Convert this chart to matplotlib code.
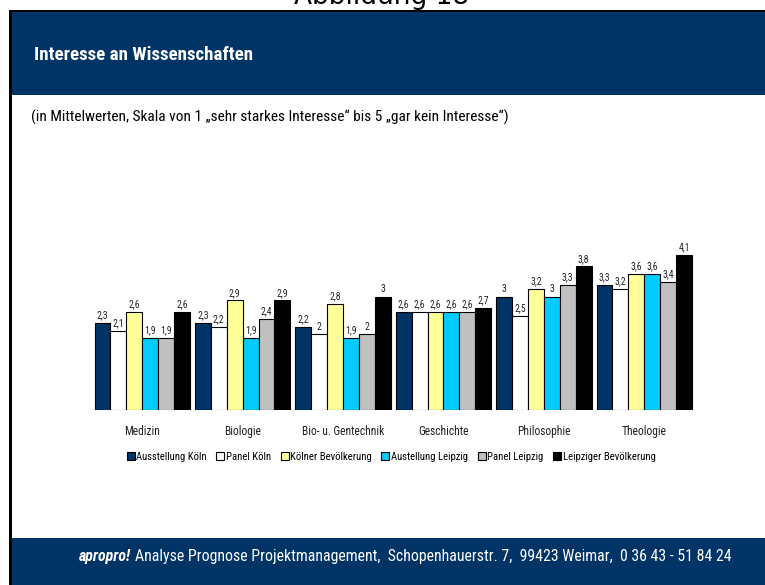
import numpy as np
import matplotlib
matplotlib.use("Agg")
import matplotlib.pyplot as plt
from matplotlib.patches import Rectangle

W, H = 765, 585

categories = ["Medizin", "Biologie", "Bio- u. Gentechnik", "Geschichte", "Philosophie", "Theologie"]
series_names = ["Ausstellung Köln", "Panel Köln", "Kölner Bevölkerung",
                "Austellung Leipzig", "Panel Leipzig", "Leipziger Bevölkerung"]
ausstellung_koeln = [2.3, 2.3, 2.2, 2.6, 3.0, 3.3]
panel_koeln = [2.1, 2.2, 2.0, 2.6, 2.5, 3.2]
koelner_bev = [2.6, 2.9, 2.8, 2.6, 3.2, 3.6]
ausstellung_leipzig = [1.9, 1.9, 1.9, 2.6, 3.0, 3.6]
panel_leipzig = [1.9, 2.4, 2.0, 2.6, 3.3, 3.4]
leipziger_bev = [2.6, 2.9, 3.0, 2.7, 3.8, 4.1]
series = [ausstellung_koeln, panel_koeln, koelner_bev,
          ausstellung_leipzig, panel_leipzig, leipziger_bev]
colors = ["#003366", "#FFFFFF", "#FFFF99", "#00CCFF", "#C0C0C0", "#000000"]

navy = "#003366"
narrow = ["Roboto Condensed", "DejaVu Sans"]


def fx(px):
    return px / W


def fy(py):
    return 1 - py / H


def fmt(v):
    s = ("%.1f" % v).replace(".", ",")
    return s[:-2] if s.endswith(",0") else s


def fit(t, width):
    # scale font size so the text gets the width measured on the reference
    fig.canvas.draw()
    w = t.get_window_extent().width
    t.set_fontsize(t.get_fontsize() * width / w)


fig = plt.figure(figsize=(W / 100, H / 100), dpi=100)

# frame: header, footer, left border
fig.add_artist(Rectangle((fx(9), 0), fx(3), fy(10),
                         transform=fig.transFigure, color="black", lw=0))
fig.add_artist(Rectangle((fx(9), fy(12)), 1, fy(10) - fy(12),
                         transform=fig.transFigure, color="black", lw=0))
fig.add_artist(Rectangle((fx(12), fy(95)), 1, fy(12) - fy(95),
                         transform=fig.transFigure, color=navy, lw=0))
fig.add_artist(Rectangle((fx(12), 0), 1, fy(538),
                         transform=fig.transFigure, color=navy, lw=0))

fig.text(fx(382), fy(4), "Abbildung 18", ha="center", va="baseline",
         fontsize=19, color="black", zorder=0)
t = fig.text(fx(34), fy(55), "Interesse an Wissenschaften", ha="left", va="center",
             fontsize=14, color="white", fontweight="bold", family=narrow)
fit(t, 220)
t = fig.text(fx(31), fy(117),
             "(in Mittelwerten, Skala von 1 \u201esehr starkes Interesse\u201c bis 5 \u201egar kein Interesse\u201c)",
             ha="left", va="center", fontsize=7, color="black", family=narrow)
fit(t, 484)

ax = fig.add_axes([fx(92), fy(410), fx(694.5) - fx(92), fy(240) - fy(410)])
x = np.arange(len(categories))
n = len(series)
bw = 0.95 / n
for i, (vals, c, name) in enumerate(zip(series, colors, series_names)):
    pos = x - 0.475 + bw * (i + 0.5)
    bars = ax.bar(pos, vals, width=bw, color=c, edgecolor="black", linewidth=0.8, label=name)
    for b, v in zip(bars, vals):
        ax.text(b.get_x() + b.get_width() / 2, v + 0.07, fmt(v), ha="center", va="bottom",
                fontsize=7, family=narrow, color="#222222")

ax.set_xlim(-0.5, len(categories) - 0.5)
ax.set_ylim(0, 4.5)
ax.set_xticks(x)
ax.set_xticklabels(categories, fontsize=8.3, family=narrow, color="#222222")
ax.tick_params(axis="x", length=0, pad=11)
ax.set_yticks([])
for s in ax.spines.values():
    s.set_visible(False)
ax.patch.set_alpha(0)

leg_size = 7.8
for _ in range(3):
    leg = fig.legend(loc="center", bbox_to_anchor=(fx(391), fy(457)), ncol=6, frameon=False,
                     prop={"family": narrow, "size": leg_size}, handlelength=0.75, handleheight=0.75,
                     handletextpad=0.15, columnspacing=0.9, borderaxespad=0)
    fig.canvas.draw()
    w = leg.get_window_extent().width
    if abs(w - 538) < 4:
        break
    leg.remove()
    leg_size = leg_size * 538 / w

# footer text: bold italic brand then regular text, same size
t2 = fig.text(fx(128), fy(557),
              "Analyse Prognose Projektmanagement,  Schopenhauerstr. 7,  99423 Weimar,  0 36 43 - 51 84 24",
              ha="left", va="center", fontsize=10, color="white", family=narrow)
fit(t2, 596)
t1 = fig.text(fx(85), fy(557), "apropro!", ha="left", va="center", fontsize=t2.get_fontsize(),
              color="white", fontweight="bold", fontstyle="italic", family=narrow)
fig.canvas.draw()
gap = 4
start = (85 + 725 - (t1.get_window_extent().width + gap + t2.get_window_extent().width)) / 2
t1.set_x(fx(start))
fig.canvas.draw()
t2.set_x(t1.get_window_extent().x1 / W + fx(gap))

fig.savefig("out.png", dpi=100)
